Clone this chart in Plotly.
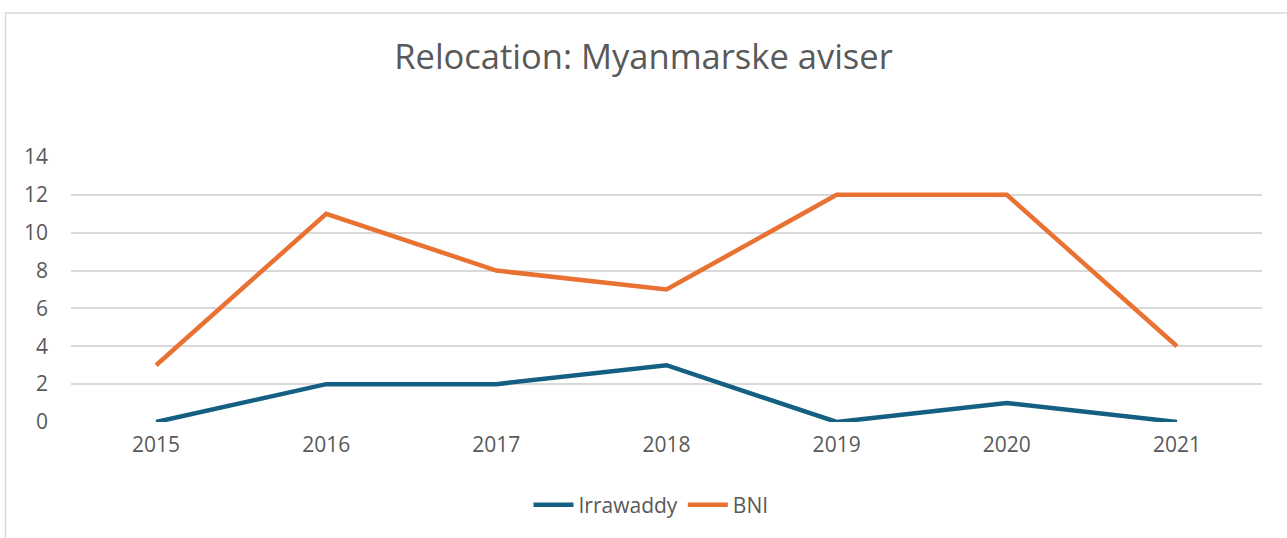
import plotly.graph_objects as go

years = ["2015", "2016", "2017", "2018", "2019", "2020", "2021"]
irrawaddy = [0, 2, 2, 3, 0, 1, 0]
bni = [3, 11, 8, 7, 12, 12, 4]
y_ticks = [0, 2, 4, 6, 8, 10, 12, 14]

W, H = 1287, 538
L, T = 71, 157
R = 1287 - 1262
B = 538 - 422
pw, ph = W - L - R, H - T - B

def px_x(x):
    return (x - L) / pw

def px_y(y):
    return (H - B - y) / ph

FONT = "Open Sans, Liberation Sans, Arial, sans-serif"
GRAY = "#595959"

fig = go.Figure()
fig.add_trace(go.Scatter(x=years, y=irrawaddy, mode="lines", name="Irrawaddy",
                         line=dict(color="#156082", width=4.5)))
fig.add_trace(go.Scatter(x=years, y=bni, mode="lines", name="BNI",
                         line=dict(color="#E97132", width=4.5)))

fig.update_layout(
    width=W, height=H,
    margin=dict(l=L, r=R, t=T, b=B),
    paper_bgcolor="white", plot_bgcolor="white",
    font=dict(family=FONT, color=GRAY, size=21),
    title=dict(text="Relocation: Myanmarske aviser", x=0.5, xanchor="center",
               y=1 - 57 / H, yanchor="middle",
               font=dict(size=34.5, color=GRAY)),
    showlegend=True,
    legend=dict(orientation="h", x=px_x(651), xanchor="center", y=px_y(505), yanchor="middle",
                font=dict(size=21, color=GRAY), itemwidth=40, tracegroupgap=0),
    hovermode=False,
)
fig.update_xaxes(type="category", range=[-0.5, 6.5], showgrid=False, zeroline=False,
                 showline=False, ticks="", tickfont=dict(size=21, color=GRAY),
                 ticklabelstandoff=8)
fig.update_yaxes(range=[0, 14], tickvals=y_ticks, showgrid=True, gridcolor="#d9d9d9",
                 gridwidth=1.5, zeroline=False, showline=False, ticks="",
                 tickfont=dict(size=21, color=GRAY), ticklabelstandoff=22)

fig.add_shape(type="rect", xref="paper", yref="paper",
              x0=px_x(5.5), x1=px_x(1300), y0=px_y(560), y1=px_y(13),
              line=dict(color="#d9d9d9", width=1.5), fillcolor="rgba(0,0,0,0)", layer="below")

fig.write_html("out.html", config={"displayModeBar": False},
               post_script="document.body.style.margin='0px';")
